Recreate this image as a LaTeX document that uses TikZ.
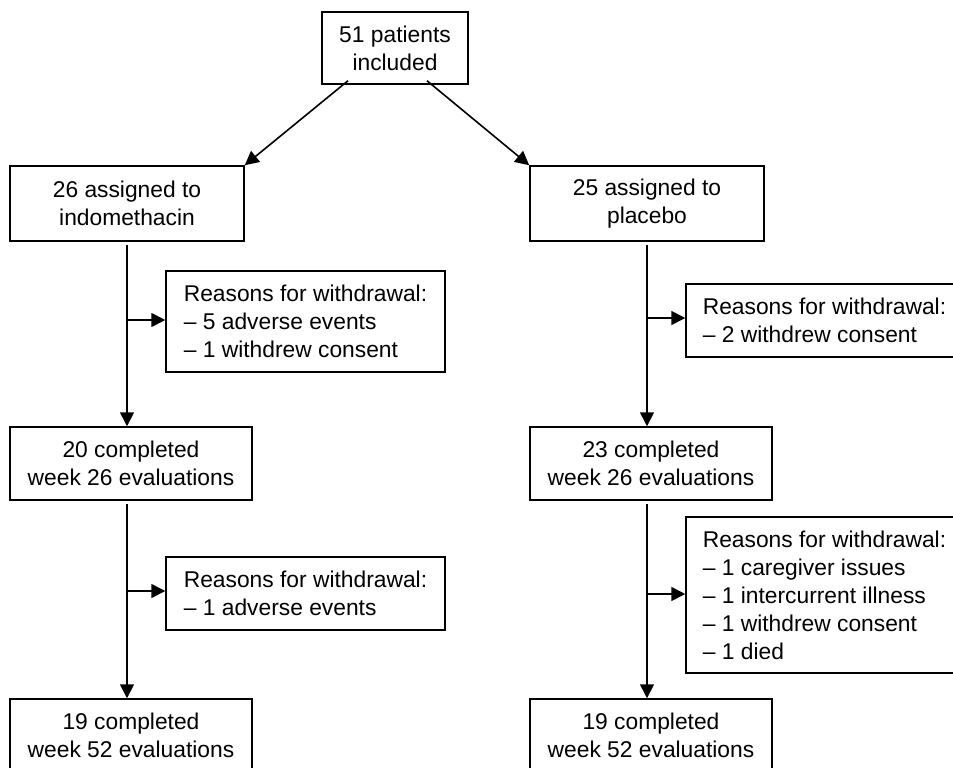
\documentclass[tikz,border=0pt]{standalone}
\usepackage{fontspec}
\setmainfont{Liberation Sans}
\usetikzlibrary{arrows.meta}
\begin{document}
\begin{tikzpicture}[x=1pt,y=-1pt,
  box/.style={draw, line width=1.5pt, inner sep=0pt, align=center,
    font=\fontsize{22.8}{28}\selectfont},
  rbox/.style={box, align=left},
  conn/.style={line width=1.6pt},
  arr/.style={conn, -{Triangle[length=14pt,width=14pt]}}]
\useasboundingbox (0,0) rectangle (953,768);
\clip (0,0) rectangle (953,768);
\node[box, minimum width=146pt, minimum height=72pt] (top) at (395,48) {51 patients\\included};
\node[box, minimum width=234pt, minimum height=75pt] (a1) at (127,203.5) {26 assigned to\\indomethacin};
\node[box, minimum width=234pt, minimum height=75pt] (a2) at (647,203.5) {25 assigned to\\placebo};
\node[rbox, minimum width=279pt, minimum height=101pt] (r1) at (305.5,321.5) {Reasons for withdrawal:\\– 5 adverse events\\– 1 withdrew consent};
\node[rbox, minimum width=277pt, minimum height=73pt] (r2) at (824.5,320.5) {Reasons for withdrawal:\\– 2 withdrew consent};
\node[box, minimum width=242pt, minimum height=73pt] (c1) at (131,463.5) {20 completed\\week 26 evaluations};
\node[box, minimum width=242pt, minimum height=73pt] (c2) at (651,463.5) {23 completed\\week 26 evaluations};
\node[rbox, minimum width=279pt, minimum height=73pt] (r3) at (305.5,593.5) {Reasons for withdrawal:\\– 1 adverse events};
\node[rbox, minimum width=277pt, minimum height=156pt] (r4) at (824.5,595) {Reasons for withdrawal:\\– 1 caregiver issues\\– 1 intercurrent illness\\– 1 withdrew consent\\– 1 died};
\node[box, minimum width=242pt, minimum height=73pt] (d1) at (131,735.5) {19 completed\\week 52 evaluations};
\node[box, minimum width=242pt, minimum height=73pt] (d2) at (651,735.5) {19 completed\\week 52 evaluations};
% diagonal arrows
\coordinate (tl) at ([xshift=-47pt,yshift=4pt]top.south);
\coordinate (tr) at ([xshift=32pt,yshift=4pt]top.south);
\draw[arr] (tl) -- (a1.north east);
\draw[arr] (tr) -- (a2.north west);
% vertical arrows
\draw[arr, shorten <=3pt] (a1.south) -- (a1.south |- c1.north);
\draw[arr, shorten <=3pt] (a2.south) -- (a2.south |- c2.north);
\draw[arr, shorten <=3pt] (a1.south |- c1.south) -- (a1.south |- d1.north);
\draw[arr, shorten <=3pt] (a2.south |- c2.south) -- (a2.south |- d2.north);
% branch arrows
\draw[arr] ([yshift=1.5pt]a1.south |- r1.west) -- ([yshift=1.5pt]r1.west);
\draw[arr] ([yshift=2.5pt]a2.south |- r2.west) -- ([yshift=2.5pt]r2.west);
\draw[arr] ([yshift=2.5pt]a1.south |- r3.west) -- ([yshift=2.5pt]r3.west);
\draw[arr] ([yshift=1pt]a2.south |- r4.west) -- ([yshift=1pt]r4.west);
\end{tikzpicture}
\end{document}
